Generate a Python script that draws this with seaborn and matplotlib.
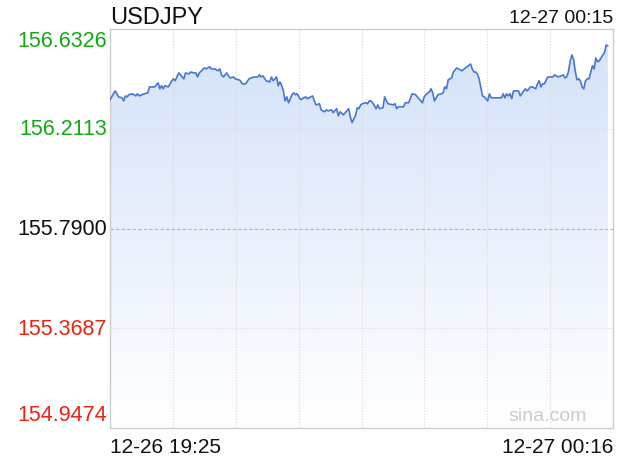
import numpy as np
import pandas as pd
import matplotlib
matplotlib.use("Agg")
import matplotlib.pyplot as plt
from matplotlib.colors import LinearSegmentedColormap
import seaborn as sns

# minutes since 12-26 19:25 and USDJPY quote
minutes = [0, 3, 5, 7, 8, 9, 10, 11, 13, 15, 16, 17, 20, 22, 23, 24, 26, 28, 29, 30,
           31, 32, 34, 36, 37, 38, 40, 41, 43, 44, 46, 47, 49, 50, 51, 52, 55, 56, 58, 59,
           61, 63, 64, 65, 66, 68, 69, 70, 72, 73, 75, 76, 77, 79, 81, 82, 84, 86, 87, 88,
           89, 91, 93, 94, 95, 97, 98, 99, 100, 101, 102, 103, 104, 105, 106, 107, 108, 109, 111, 112,
           114, 115, 117, 118, 119, 120, 122, 123, 125, 126, 127, 129, 130, 132, 133, 134, 136, 137, 139, 140,
           141, 142, 143, 144, 145, 146, 147, 149, 150, 151, 152, 153, 155, 156, 157, 159, 160, 161, 162, 165,
           166, 167, 168, 171, 172, 174, 176, 178, 179, 181, 182, 183, 184, 186, 187, 188, 189, 191, 193, 194,
           195, 196, 197, 199, 200, 202, 204, 205, 207, 208, 210, 211, 212, 213, 214, 215, 217, 218, 219, 220,
           221, 222, 224, 226, 228, 229, 230, 231, 232, 233, 234, 235, 236, 238, 239, 241, 242, 243, 245, 246,
           248, 249, 250, 251, 252, 253, 255, 256, 258, 259, 261, 263, 264, 265, 266, 267, 268, 269, 270, 271,
           272, 273, 274, 275, 276, 277, 278, 279, 281, 282, 283, 284, 285, 286, 287, 288, 289, 290]
prices = [156.334, 156.371, 156.346, 156.342, 156.329, 156.350, 156.346, 156.355, 156.359, 156.350,
          156.359, 156.350, 156.359, 156.363, 156.388, 156.388, 156.388, 156.405, 156.380, 156.393,
          156.380, 156.393, 156.388, 156.414, 156.422, 156.414, 156.447, 156.439, 156.422, 156.447,
          156.443, 156.451, 156.447, 156.447, 156.430, 156.447, 156.468, 156.464, 156.473, 156.464,
          156.464, 156.456, 156.464, 156.439, 156.430, 156.447, 156.435, 156.426, 156.430, 156.422,
          156.418, 156.414, 156.401, 156.401, 156.422, 156.426, 156.430, 156.430, 156.439, 156.430,
          156.435, 156.414, 156.409, 156.430, 156.414, 156.430, 156.393, 156.409, 156.393, 156.371,
          156.329, 156.346, 156.321, 156.338, 156.355, 156.363, 156.355, 156.359, 156.334, 156.338,
          156.346, 156.338, 156.346, 156.350, 156.329, 156.312, 156.317, 156.291, 156.283, 156.291,
          156.287, 156.291, 156.279, 156.296, 156.266, 156.283, 156.270, 156.279, 156.296, 156.262,
          156.237, 156.253, 156.266, 156.300, 156.296, 156.312, 156.317, 156.321, 156.317, 156.329,
          156.329, 156.321, 156.296, 156.312, 156.296, 156.300, 156.346, 156.329, 156.317, 156.312,
          156.317, 156.296, 156.304, 156.304, 156.321, 156.321, 156.359, 156.355, 156.346, 156.329,
          156.321, 156.346, 156.355, 156.367, 156.380, 156.363, 156.329, 156.355, 156.359, 156.363,
          156.388, 156.380, 156.418, 156.426, 156.451, 156.468, 156.460, 156.456, 156.468, 156.473,
          156.485, 156.464, 156.451, 156.451, 156.443, 156.422, 156.350, 156.346, 156.338, 156.329,
          156.359, 156.342, 156.342, 156.342, 156.342, 156.359, 156.342, 156.359, 156.350, 156.359,
          156.338, 156.371, 156.371, 156.371, 156.350, 156.371, 156.380, 156.371, 156.388, 156.388,
          156.380, 156.401, 156.414, 156.388, 156.401, 156.401, 156.430, 156.430, 156.430, 156.439,
          156.430, 156.435, 156.439, 156.426, 156.430, 156.451, 156.494, 156.523, 156.506, 156.456,
          156.418, 156.422, 156.414, 156.388, 156.380, 156.414, 156.422, 156.422, 156.477, 156.464,
          156.510, 156.494, 156.498, 156.510, 156.523, 156.532, 156.565, 156.561]

y_ticks = [156.6326, 156.2113, 155.7900, 155.3687, 154.9474]
y_colors = ["#11aa11", "#11aa11", "#111111", "#ee2211", "#ee2211"]
title = "USDJPY"
last_time = "12-27 00:15"
x_labels = ["12-26 19:25", "12-27 00:16"]

df = pd.DataFrame({"minute": minutes, "price": prices})
ymin, ymax = y_ticks[-1], y_ticks[0]
xmax = 293

sns.set_style("white")
plt.rcParams["font.family"] = ["Liberation Sans", "DejaVu Sans"]

fig = plt.figure(figsize=(6.2, 4.6), dpi=100)
ax = fig.add_axes([110 / 620, 31 / 460, 503 / 620, 399 / 460])

# gradient fill under the line
poly = ax.fill_between(df["minute"], df["price"], ymin, facecolor="none", edgecolor="none")
cmap = LinearSegmentedColormap.from_list("fade", ["#ffffff", "#d3e1f9"])
grad = np.linspace(0, 1, 256).reshape(-1, 1)
im = ax.imshow(grad, extent=[0, xmax, ymin, ymax], origin="lower", aspect="auto",
               cmap=cmap, zorder=1)
im.set_clip_path(poly.get_paths()[0], transform=ax.transData)

sns.lineplot(data=df, x="minute", y="price", ax=ax, color="#4677d2", linewidth=1.2, zorder=3)

ax.set_xlim(0, xmax)
ax.set_ylim(ymin, ymax)
ax.set_xticks([])
ax.set_yticks([])
ax.set_xlabel("")
ax.set_ylabel("")

for xv in np.linspace(0, xmax, 9)[1:-1]:
    ax.axvline(xv, color="#d8d8d8", linewidth=0.8, linestyle=(0, (1, 1.5)), zorder=2)
for yv in [y_ticks[1], y_ticks[3]]:
    ax.axhline(yv, color="#d8d8d8", linewidth=0.8, linestyle=(0, (1, 1.5)), zorder=2)
ax.axhline(y_ticks[2], color="#b0b0c4", linewidth=0.8, linestyle=(0, (3, 2)), zorder=2)

for s in ax.spines.values():
    s.set_color("#cccccc")
    s.set_linewidth(1)

# y labels
for i, (v, c) in enumerate(zip(y_ticks, y_colors)):
    va = "top" if i == 0 else ("bottom" if i == len(y_ticks) - 1 else "center")
    off = -0.006 if i == 0 else (0.014 if i == len(y_ticks) - 1 else 0)
    ax.text(-3 / 503 * xmax, v + off, f"{v:.4f}", color=c, fontsize=15.5,
            ha="right", va=va, clip_on=False)

fig.text(110 / 620, 1 - 24 / 460, title, fontsize=17, ha="left", va="baseline", color="#111111")
fig.text(613 / 620, 1 - 23 / 460, last_time, fontsize=14, ha="right", va="baseline", color="#111111")
fig.text(110 / 620, 1 - 453 / 460, x_labels[0], fontsize=15, ha="left", va="baseline", color="#111111")
fig.text(613 / 620, 1 - 453 / 460, x_labels[1], fontsize=15, ha="right", va="baseline", color="#111111")
fig.text(587 / 620, 1 - 421 / 460, "sina.com", fontsize=14, ha="right", va="baseline", color="#cccccc")

fig.savefig("out.png", dpi=100)
